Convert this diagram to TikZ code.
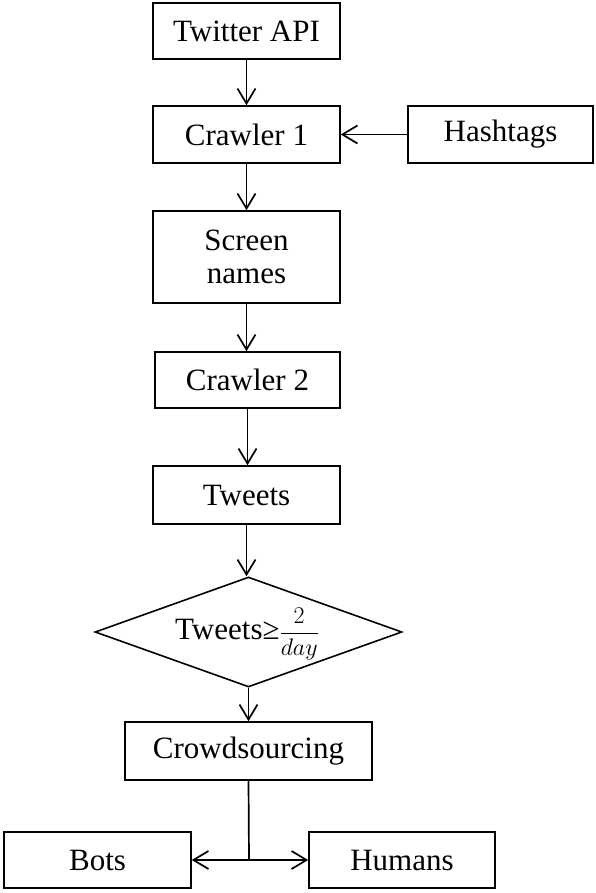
\RequirePackage{fix-cm}
\documentclass[tikz,border=0pt]{standalone}
\usepackage{fontspec}
\setmainfont{Liberation Serif}
\usetikzlibrary{arrows.meta,shapes.geometric,calc}
\tikzset{
  txt/.style={font=\fontsize{31}{33}\selectfont},
  box/.style={draw, line width=1.6pt, minimum height=#1, inner sep=0pt, align=center, txt},
  box/.default=56pt,
  arr/.style={line width=1.7pt, -{Straight Barb[length=15pt,width=18pt,line width=1.7pt]}},
  ln/.style={line width=1.7pt}
}
\begin{document}
\begin{tikzpicture}[x=1pt,y=-1pt]
\useasboundingbox (0,0) rectangle (596,893);
\node[box, minimum width=187pt] (tw) at (246.5,31) {Twitter API};
\node[box=57pt, minimum width=187pt] (c1) at (246.5,134.5) {Crawler 1};
\node[box=57pt, minimum width=185pt] (ht) at (500.5,134.5) {Hashtags};
\node[box=92pt, minimum width=187pt] (sn) at (246.5,257) {Screen\\names};
\node[box, minimum width=185pt] (c2) at (247.5,380) {Crawler 2};
\node[box=58pt, minimum width=187pt] (tt) at (246.5,495) {Tweets};
\node[draw, line width=1.6pt, diamond, aspect=2.79, minimum width=307pt, minimum height=110pt, inner sep=0pt] (dm) at (248.5,632) {};
\node[txt, anchor=center, inner sep=0pt] (dmt) at (247,634) {Tweets≥{\fontsize{24}{26}\selectfont$\displaystyle\frac{2}{day}$}};
\node[box=58pt, minimum width=247pt] (cr) at (248.5,751) {Crowdsourcing};
\node[box, minimum width=187pt] (bo) at (97.5,860) {Bots};
\node[box, minimum width=186pt] (hu) at (402,860) {Humans};
\coordinate (split) at (249,860);

\draw[arr] (tw.south) -- (tw.south |- c1.north);
\draw[arr] (ht.west) -- (c1.east);
\draw[arr] (c1.south) -- (c1.south |- sn.north);
\draw[arr] (sn.south) -- (sn.south |- c2.north);
\draw[arr] (c2.south) -- (c2.south |- tt.north);
\draw[arr] (tt.south) -- (tt.south |- dm.north);
\draw[arr] (dm.south) -- (dm.south |- cr.north);
\draw[ln] (cr.south) -- (split);
\draw[arr] (split) -- (bo.east);
\draw[arr] (split) -- (hu.west);
\end{tikzpicture}
\end{document}
